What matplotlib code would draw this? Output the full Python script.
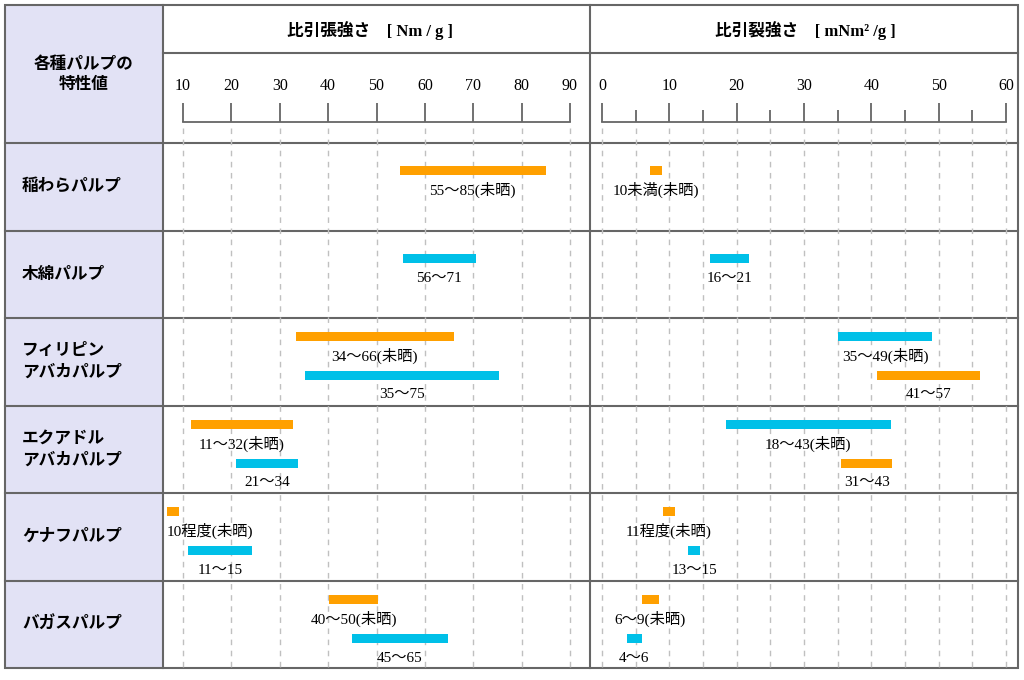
import numpy as np
import matplotlib.pyplot as plt
from matplotlib.patches import Rectangle

FONT = ['Liberation Serif', 'Noto Sans CJK JP', 'DejaVu Sans']
plt.rcParams['font.family'] = FONT

ORANGE = '#ffa000'
CYAN = '#00c0e8'
LINE = '#666666'

rows = ['稲わらパルプ', '木綿パルプ', 'フィリピン\nアバカパルプ', 'エクアドル\nアバカパルプ',
        'ケナフパルプ', 'バガスパルプ']

# each row: list of (start, end, colour, label)
tensile = [
    [(54.8, 85.0, ORANGE, '55～85(未晒)')],
    [(55.5, 70.5, CYAN, '56～71')],
    [(33.3, 66.0, ORANGE, '34～66(未晒)'), (35.2, 75.3, CYAN, '35～75')],
    [(11.7, 32.7, ORANGE, '11～32(未晒)'), (21.0, 33.8, CYAN, '21～34')],
    [(6.7, 9.2, ORANGE, '10程度(未晒)'), (11.0, 24.3, CYAN, '11～15')],
    [(40.2, 50.3, ORANGE, '40～50(未晒)'), (44.9, 64.8, CYAN, '45～65')],
]
tear = [
    [(7.1, 8.9, ORANGE, '10未満(未晒)')],
    [(16.0, 21.8, CYAN, '16～21')],
    [(35.1, 49.0, CYAN, '35～49(未晒)'), (40.9, 56.2, ORANGE, '41～57')],
    [(18.4, 42.9, CYAN, '18～43(未晒)'), (35.5, 43.1, ORANGE, '31～43')],
    [(9.1, 10.8, ORANGE, '11程度(未晒)'), (12.8, 14.6, CYAN, '13～15')],
    [(5.9, 8.5, ORANGE, '6～9(未晒)'), (3.7, 5.9, CYAN, '4～6')],
]
tensile_ticks = list(range(10, 91, 10))
tear_ticks = list(range(0, 61, 10))
tear_minor = list(range(5, 60, 10))

W, H = 1024, 680
fig = plt.figure(figsize=(W / 100, H / 100), dpi=100)
bg = fig.add_axes([0, 0, 1, 1])
bg.set_xlim(0, W)
bg.set_ylim(H, 0)
bg.axis('off')

row_top = [143, 231, 318, 406, 493, 581]
bottom = 668

# left column
bg.add_patch(Rectangle((5, 5), 158, bottom - 5, fc='#e2e2f5', ec='none', zorder=0))
bg.text(84, 75, '各種パルプの\n特性値', ha='center', va='center', fontsize=12,
        fontweight='bold', linespacing=1.3)
for i, name in enumerate(rows):
    bg.text(22, row_top[i] + 44, name, ha='left', va='center', fontsize=12,
            fontweight='bold', linespacing=1.5)

# frame lines
for y in row_top:
    bg.plot([5, 1018], [y, y], color=LINE, lw=1.5, zorder=5)
bg.plot([163, 1018], [53, 53], color=LINE, lw=1.5, zorder=5)
bg.add_patch(Rectangle((5, 5), 1013, bottom - 5, fc='none', ec=LINE, lw=1.5, zorder=5))
bg.plot([163, 163], [5, bottom], color=LINE, lw=1.5, zorder=5)
bg.plot([590, 590], [5, bottom], color=LINE, lw=1.5, zorder=5)

bg.text(370, 31, '比引張強さ　[ Nm / g ]', ha='center', va='center', fontsize=12, fontweight='bold')
bg.text(805, 31, '比引裂強さ　[ mNm² /g ]', ha='center', va='center', fontsize=12, fontweight='bold')


def panel(x0, x1, v0, p0, v1, p1, ticks, minor, grid, data, left_clip):
    scale = (v1 - v0) / (p1 - p0)
    ax = fig.add_axes([x0 / W, 1 - bottom / H, (x1 - x0) / W, (bottom - 5) / H])
    ax.set_xlim(v0 - (p0 - x0) * scale, v1 + (x1 - p1) * scale)
    ax.set_ylim(bottom, 5)
    ax.axis('off')
    ax.patch.set_alpha(0)
    ax.plot([ticks[0], ticks[-1]], [122, 122], color=LINE, lw=1.3)
    ax.vlines(ticks, 103, 122, color=LINE, lw=1.3)
    if minor:
        ax.vlines(minor, 110, 122, color=LINE, lw=1.3)
    for t in ticks:
        ax.text(t, 86, str(t), ha='center', va='center', fontsize=11.5)
    ax.vlines(grid, 128, bottom, color='#c0c0c0', lw=1, linestyles=(0, (4, 4)))
    for i, bars in enumerate(data):
        top = row_top[i]
        if len(bars) == 1:
            ys = [top + 27]
        else:
            ys = [top + 18, top + 57]
        for (s, e, c, lab), y in zip(bars, ys):
            ax.barh(y, e - s, left=s, height=9, color=c, zorder=3)
            mid = (s + e) / 2
            if left_clip and mid < ticks[0]:
                ax.text(s, y + 20, lab, ha='left', va='center', fontsize=11)
            else:
                ax.text(mid, y + 20, lab, ha='center', va='center', fontsize=11)


panel(163, 590, 10, 183, 90, 570, tensile_ticks, None, tensile_ticks, tensile, True)
panel(590, 1018, 0, 602, 60, 1006, tear_ticks, tear_minor,
      sorted(tear_ticks + tear_minor), tear, False)

fig.savefig('out.png', dpi=100)
